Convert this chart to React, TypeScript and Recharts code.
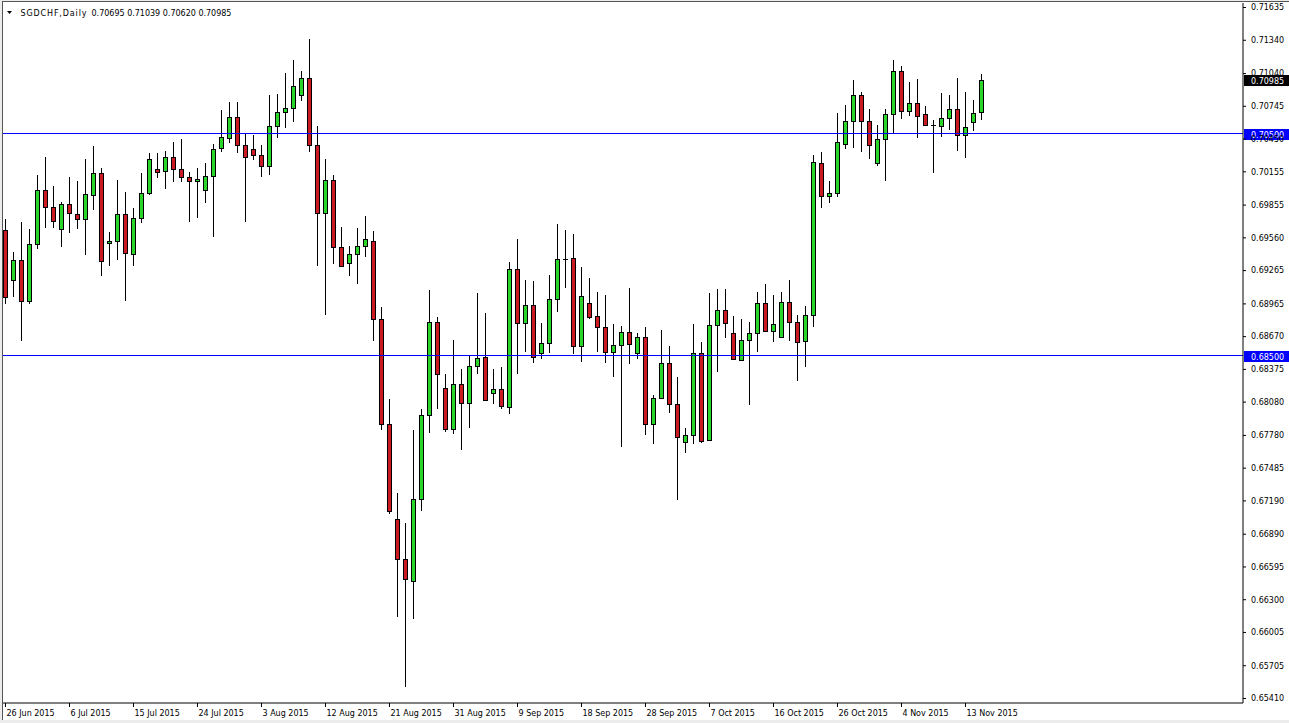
import { ComposedChart, Bar, XAxis, YAxis, ReferenceLine } from "recharts";

const W = 1289;
const H = 723;

// bar index of each date label on the time axis (one label every 8 bars)
const dateTickBars = [0, 8, 16, 24, 32, 40, 48, 56, 64, 72, 80, 88, 96, 104, 112, 120];
const dateLabels = [
  "26 Jun 2015", "6 Jul 2015", "15 Jul 2015", "24 Jul 2015", "3 Aug 2015", "12 Aug 2015",
  "21 Aug 2015", "31 Aug 2015", "9 Sep 2015", "18 Sep 2015", "28 Sep 2015", "7 Oct 2015",
  "16 Oct 2015", "26 Oct 2015", "4 Nov 2015", "13 Nov 2015",
];

const priceTicks = [
  0.71635, 0.7134, 0.7104, 0.70745, 0.7045, 0.70155, 0.69855, 0.6956, 0.69265, 0.68965, 0.6867,
  0.68375, 0.6808, 0.6778, 0.67485, 0.6719, 0.6689, 0.66595, 0.663, 0.66005, 0.65705, 0.6541,
];

const levelLines = [0.705, 0.685];
const lastPrice = 0.70985;

const opens = [
  0.6963, 0.69177, 0.6936, 0.68988, 0.69501, 0.69987, 0.69834, 0.69636, 0.69861, 0.69771,
  0.69726, 0.69942, 0.7014, 0.6951, 0.69528, 0.69771, 0.69411, 0.69735, 0.6996, 0.70176,
  0.70158, 0.70287, 0.70176, 0.70104, 0.70068, 0.69987, 0.70113, 0.70365, 0.70455, 0.70653,
  0.70392, 0.70356, 0.70302, 0.70203, 0.70572, 0.70698, 0.70734, 0.70851, 0.71004, 0.70392,
  0.6978, 0.70078, 0.69473, 0.69329, 0.69411, 0.69483, 0.69536, 0.68825, 0.6788, 0.67026,
  0.66663, 0.66473, 0.67203, 0.67961, 0.68803, 0.68207, 0.67841, 0.6824, 0.68069, 0.68406,
  0.6849, 0.68166, 0.68196, 0.68034, 0.69276, 0.6879, 0.68952, 0.6852, 0.6861, 0.69006,
  0.69369, 0.69375, 0.68589, 0.6897, 0.68853, 0.68754, 0.68529, 0.68592, 0.68709, 0.6852,
  0.6867, 0.67881, 0.68115, 0.6843, 0.68061, 0.67725, 0.67782, 0.6852, 0.67737, 0.68772,
  0.68907, 0.687, 0.6846, 0.68637, 0.687, 0.6897, 0.68724, 0.68664, 0.68985, 0.68805,
  0.68634, 0.68862, 0.70238, 0.69939, 0.6996, 0.70407, 0.70611, 0.70851, 0.70611, 0.70236,
  0.70446, 0.7068, 0.71067, 0.70707, 0.70779, 0.7068, 0.70575, 0.70572, 0.70644, 0.70725,
  0.70485, 0.70608, 0.70695,
];

const highs = [
  0.69729, 0.69432, 0.69702, 0.69639, 0.70125, 0.7029, 0.70029, 0.69882, 0.70107, 0.70071,
  0.70269, 0.70386, 0.70185, 0.69609, 0.70077, 0.69969, 0.69825, 0.7014, 0.7032, 0.7032,
  0.70338, 0.70422, 0.70449, 0.70149, 0.70185, 0.7023, 0.70401, 0.70716, 0.70788, 0.70788,
  0.70509, 0.70491, 0.70392, 0.70851, 0.7086, 0.71049, 0.71166, 0.71067, 0.71355, 0.70572,
  0.70268, 0.70124, 0.69656, 0.69483, 0.69647, 0.69761, 0.6962, 0.68933, 0.68109, 0.67259,
  0.6699, 0.67831, 0.68017, 0.6909, 0.68845, 0.68331, 0.68643, 0.68377, 0.68509, 0.69066,
  0.6888, 0.68379, 0.684, 0.69345, 0.69549, 0.6918, 0.69171, 0.6879, 0.69225, 0.69684,
  0.6963, 0.69594, 0.693, 0.69195, 0.69075, 0.69045, 0.68781, 0.68769, 0.69105, 0.68706,
  0.68754, 0.68145, 0.6873, 0.68586, 0.68304, 0.67845, 0.68784, 0.68625, 0.6906, 0.69096,
  0.69099, 0.68856, 0.68829, 0.68805, 0.69075, 0.69144, 0.69045, 0.69069, 0.6918, 0.68865,
  0.68946, 0.70305, 0.70329, 0.70074, 0.70686, 0.70755, 0.70986, 0.70875, 0.70725, 0.70581,
  0.70725, 0.7116, 0.71109, 0.70962, 0.70989, 0.70752, 0.7062, 0.70869, 0.70851, 0.71004,
  0.70878, 0.708, 0.71039,
];

const lows = [
  0.68964, 0.69027, 0.68634, 0.68964, 0.69456, 0.69651, 0.69651, 0.6948, 0.69606, 0.69642,
  0.69402, 0.69807, 0.69213, 0.69309, 0.69357, 0.68994, 0.69303, 0.6969, 0.69942, 0.70095,
  0.69996, 0.70065, 0.70065, 0.69702, 0.69738, 0.6987, 0.69567, 0.70329, 0.7041, 0.7032,
  0.69702, 0.70257, 0.70104, 0.70122, 0.70455, 0.70554, 0.70608, 0.70797, 0.70329, 0.6931,
  0.68868, 0.69326, 0.69303, 0.69212, 0.6914, 0.69385, 0.68633, 0.67831, 0.67069, 0.66146,
  0.65518, 0.6613, 0.67095, 0.67805, 0.68021, 0.67815, 0.67789, 0.67651, 0.67847, 0.68334,
  0.68092, 0.68061, 0.68016, 0.67974, 0.68334, 0.68535, 0.68436, 0.68466, 0.68526, 0.68895,
  0.69111, 0.68511, 0.68445, 0.68826, 0.68535, 0.68436, 0.6831, 0.6768, 0.68421, 0.68472,
  0.67785, 0.67704, 0.68106, 0.67986, 0.67194, 0.67626, 0.67701, 0.67716, 0.67734, 0.68355,
  0.68661, 0.68463, 0.68448, 0.68055, 0.68535, 0.68715, 0.68625, 0.68661, 0.68631, 0.68274,
  0.684, 0.6876, 0.69833, 0.6987, 0.69924, 0.70362, 0.70371, 0.70335, 0.70272, 0.70209,
  0.70074, 0.705, 0.70632, 0.70662, 0.70455, 0.70572, 0.70146, 0.70464, 0.70536, 0.70344,
  0.70275, 0.70524, 0.7062,
];

const closes = [
  0.69024, 0.6936, 0.68988, 0.69501, 0.69987, 0.69834, 0.69708, 0.69861, 0.6978, 0.69726,
  0.69951, 0.7014, 0.69348, 0.69528, 0.69771, 0.6942, 0.69735, 0.6996, 0.70266, 0.70149,
  0.70284, 0.70176, 0.70104, 0.70068, 0.70086, 0.70113, 0.70356, 0.70464, 0.70653, 0.70392,
  0.70284, 0.70302, 0.70203, 0.70572, 0.70698, 0.70734, 0.70932, 0.71004, 0.70392, 0.6978,
  0.70078, 0.69473, 0.6931, 0.69411, 0.69483, 0.69548, 0.68825, 0.6788, 0.67095, 0.66663,
  0.66483, 0.67203, 0.67961, 0.68803, 0.68331, 0.67841, 0.6824, 0.68069, 0.68403, 0.68475,
  0.68097, 0.68196, 0.68046, 0.69276, 0.6879, 0.68952, 0.6849, 0.6861, 0.69006, 0.69366,
  0.69369, 0.68589, 0.69036, 0.6885, 0.68754, 0.68529, 0.68592, 0.68709, 0.68601, 0.6867,
  0.67881, 0.68115, 0.6843, 0.68061, 0.67764, 0.67782, 0.6852, 0.67731, 0.68772, 0.68907,
  0.68796, 0.68466, 0.68637, 0.68703, 0.68976, 0.68724, 0.68781, 0.68985, 0.68805, 0.68625,
  0.68862, 0.70239, 0.69939, 0.6996, 0.70419, 0.70611, 0.70851, 0.70611, 0.70392, 0.70446,
  0.7068, 0.71067, 0.70707, 0.70779, 0.70662, 0.70581, 0.70575, 0.70644, 0.70725, 0.70485,
  0.7056, 0.70689, 0.70985,
];

const data = opens.map((o, i) => ({
  bar: i,
  open: o,
  high: highs[i],
  low: lows[i],
  close: closes[i],
  range: [lows[i], highs[i]],
}));

const FONT = "DejaVu Sans";
const UP = "#2ad62a";
const DOWN = "#cc1a22";
const LEVEL = "#0000ff";

// draws wick + body inside the low..high box that Bar hands us
function Candle(props: any) {
  const { x, y, width, height, payload } = props;
  if (payload == null || x == null || y == null) return null;
  const cx = Math.floor(x + width / 2) + 0.5;
  const top = Math.min(y, y + height);
  const bot = Math.max(y, y + height);
  const span = payload.high - payload.low;
  const toY = (v: number) => top + ((payload.high - v) / span) * (bot - top);
  const yo = toY(payload.open);
  const yc = toY(payload.close);
  const b1 = Math.round(Math.min(yo, yc)) + 0.5;
  const b2 = Math.round(Math.max(yo, yc)) + 0.5;
  const up = payload.close > payload.open;

  return (
    <g>
      <line x1={cx} x2={cx} y1={Math.round(top)} y2={Math.round(bot)} stroke="#000" strokeWidth={1} />
      {b2 - b1 < 1 ? (
        <line x1={cx - 2.5} x2={cx + 2.5} y1={b1} y2={b1} stroke="#000" strokeWidth={1} />
      ) : (
        <rect
          x={cx - 2}
          y={b1}
          width={4}
          height={b2 - b1}
          fill={up ? UP : DOWN}
          stroke="#000"
          strokeWidth={1}
        />
      )}
    </g>
  );
}

function LevelLine(p: any) {
  return <line x1={p.x1} x2={p.x2} y1={p.y1} y2={p.y2} stroke={LEVEL} strokeWidth={1} />;
}

function DateTick(props: any) {
  const { x, y, payload } = props;
  const idx = dateTickBars.indexOf(payload.value);
  if (idx < 0) return null;
  return (
    <text x={x + 1} y={y + 7} fontSize={8} fontFamily={FONT} fill="#000">
      {dateLabels[idx]}
    </text>
  );
}

function priceBox(text: string, fill: string) {
  return (p: any) => {
    const vb = p.viewBox || {};
    const right = (vb.x || 0) + (vb.width || 0);
    const yy = Math.round(vb.y);
    return (
      <g>
        <rect x={right + 1} y={yy - 5} width={46} height={11} fill={fill} />
        <text x={right + 8} y={yy + 3.5} fontSize={8} fontFamily={FONT} fill="#fff">
          {text}
        </text>
      </g>
    );
  };
}

export default function App() {
  return (
    <div
      style={{
        position: "absolute",
        left: 0,
        top: 0,
        width: W,
        height: H,
        background: "#ececec",
        overflow: "hidden",
      }}
    >
      <div
        style={{
          position: "absolute",
          left: 2,
          top: 1,
          width: W - 2,
          height: 719,
          background: "#fff",
          borderLeft: "1px solid #555",
          borderTop: "1px solid #555",
          boxSizing: "border-box",
        }}
      />
      <div style={{ position: "absolute", left: 0, top: 0 }}>
        <ComposedChart
          width={W}
          height={H}
          data={data}
          margin={{ top: 3, right: 0, bottom: 0, left: 3 }}
          style={{ fontFamily: FONT }}
        >
          <XAxis
            dataKey="bar"
            type="number"
            domain={[-0.3125, 154.6875]}
            allowDataOverflow
            ticks={dateTickBars}
            interval={0}
            tick={<DateTick />}
            tickSize={4}
            height={20}
            axisLine={{ stroke: "#000" }}
            tickLine={{ stroke: "#000" }}
          />
          <YAxis
            orientation="right"
            width={46}
            domain={[0.653694, 0.716757]}
            allowDataOverflow
            ticks={priceTicks}
            interval={0}
            tickFormatter={(v: number) => v.toFixed(5)}
            tick={{ fontSize: 8, fontFamily: FONT, fill: "#000" }}
            tickSize={3}
            tickMargin={5}
            axisLine={{ stroke: "#000" }}
            tickLine={{ stroke: "#000" }}
          />
          {levelLines.map((v) => (
            <ReferenceLine
              key={v}
              y={v}
              stroke={LEVEL}
              shape={(p: any) => <LevelLine {...p} />}
              label={priceBox(v.toFixed(5), LEVEL)}
            />
          ))}
          <Bar dataKey="range" barSize={6} isAnimationActive={false} shape={(p: any) => <Candle {...p} />} />
          <ReferenceLine
            y={lastPrice}
            stroke="none"
            strokeOpacity={0}
            label={priceBox(lastPrice.toFixed(5), "#000")}
          />
        </ComposedChart>
      </div>
      <svg
        width={260}
        height={24}
        style={{ position: "absolute", left: 0, top: 0 }}
        fontFamily={FONT}
      >
        <polygon points="7,11 12,11 9.5,14" fill="#000" />
        <text x={20.5} y={16} fontSize={8} fill="#000" textLength={66} lengthAdjust="spacing">
          SGDCHF,Daily
        </text>
        <text x={91.5} y={16} fontSize={8} fill="#000">
          0.70695 0.71039 0.70620 0.70985
        </text>
      </svg>
    </div>
  );
}
